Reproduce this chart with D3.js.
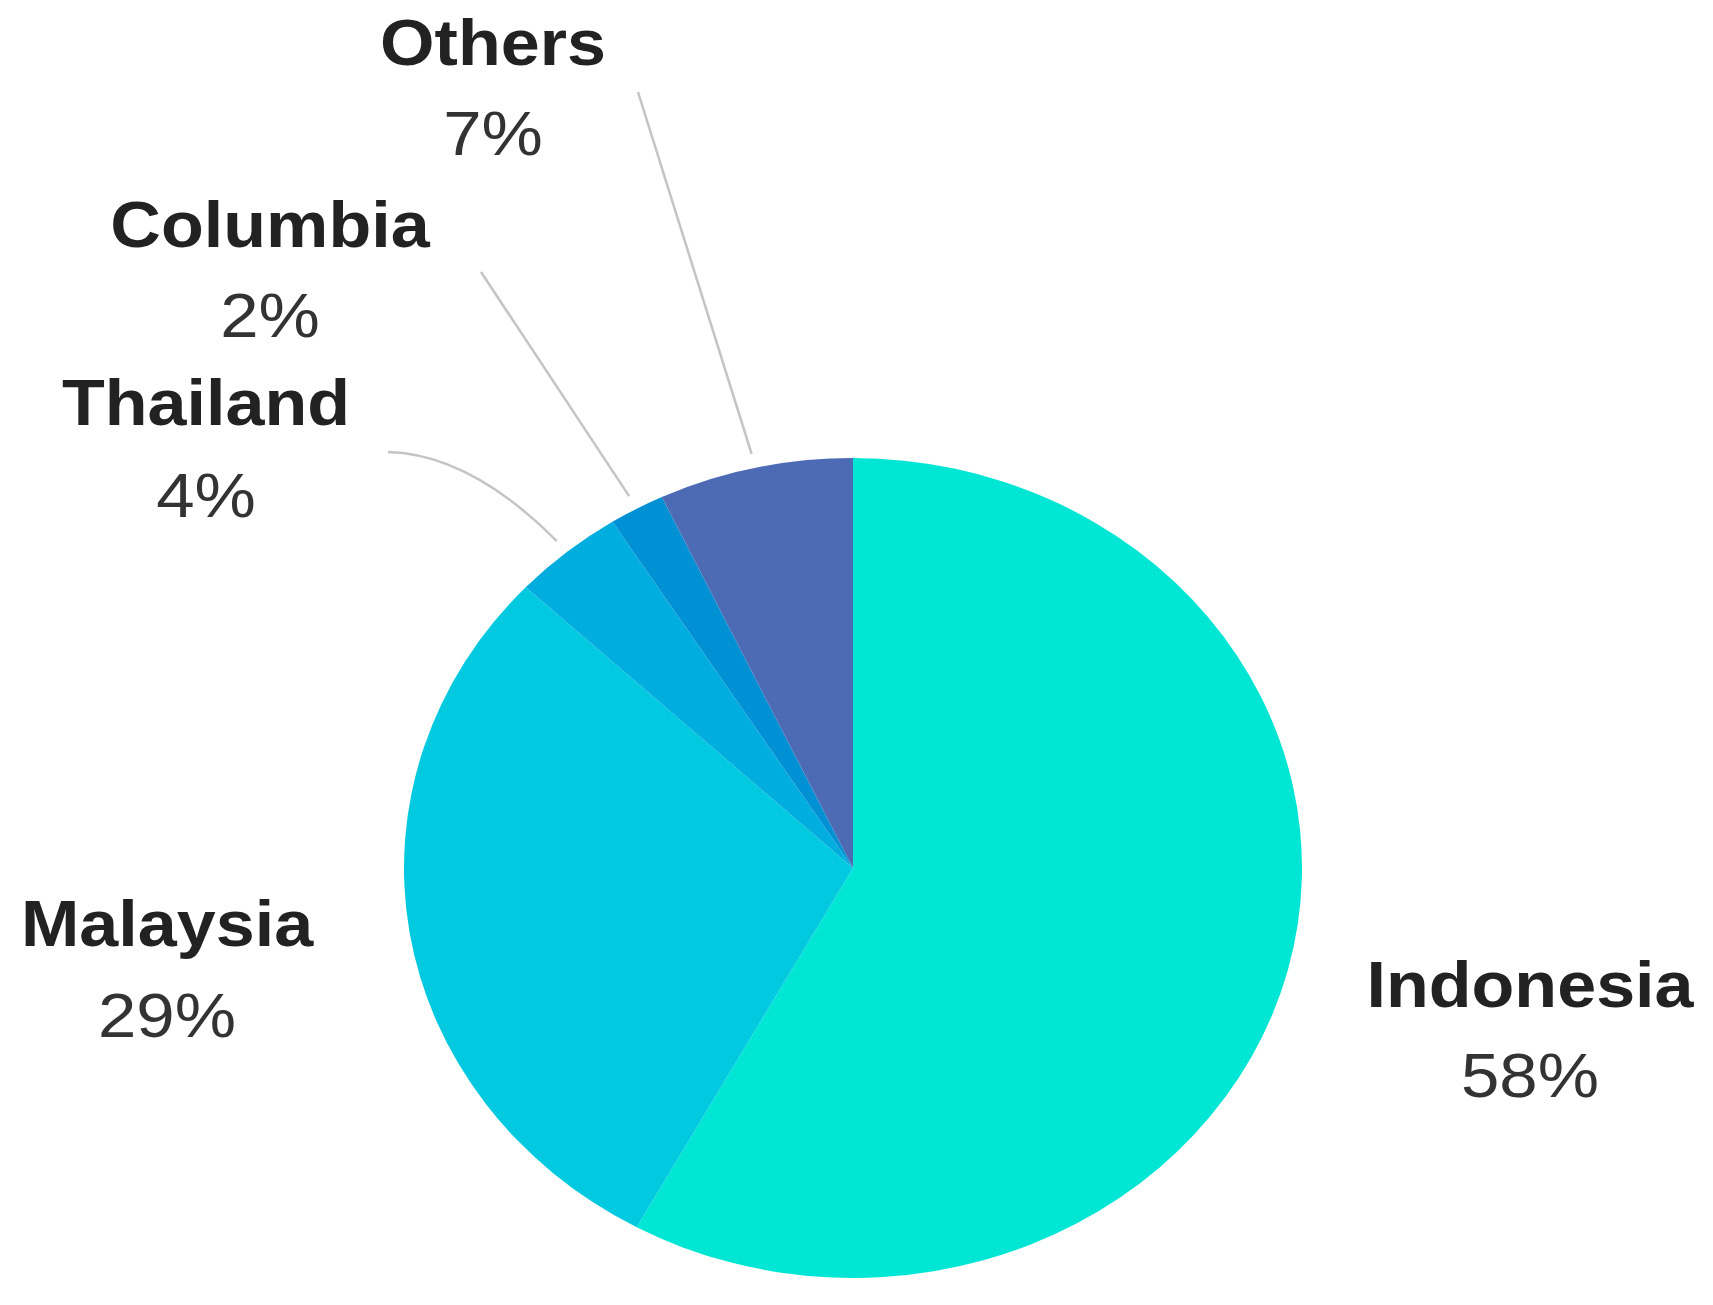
<!DOCTYPE html>
<html>
<head>
<meta charset="utf-8">
<script src="https://cdn.jsdelivr.net/npm/d3@7"></script>
<style>
    body { margin: 0; background: #fff; }
    svg { display: block; }
    text { font-family: "Liberation Sans", Arial, sans-serif; }
</style>
</head>
<body>
<svg id="chart" width="1713" height="1305"></svg>
<script>
// data
const countries = ['Indonesia', 'Malaysia', 'Thailand', 'Columbia', 'Others'];
const shares = [58, 29, 4, 2, 7];
const colors = ['#00e6d4', '#00c9e0', '#00addf', '#0090d4', '#4d6ab5'];

// layout (label anchors and where leader lines begin)
const labelPos = [
    {x: 1530, nameY: 1007, pctY: 1097},
    {x: 167, nameY: 946, pctY: 1037},
    {x: 206, nameY: 425, pctY: 517},
    {x: 270, nameY: 247, pctY: 337},
    {x: 493, nameY: 65, pctY: 155}
];
const leaderStart = [null, null, [388, 452], [481, 272], [638, 92]];

var cx = 853, cy = 868;
var r = 410;
var sx = 449 / r;   // the pie is drawn a little wider than tall

var svg = d3.select('#chart');

var pie = d3.pie().sort(null).value(function(d) { return d; });
var arcs = pie(shares);
var arc = d3.arc().innerRadius(0).outerRadius(r);

var pieG = svg.append('g')
    .attr('transform', 'translate(' + cx + ',' + cy + ') scale(' + sx + ',1)');

pieG.selectAll('path')
    .data(arcs)
    .enter()
    .append('path')
    .attr('d', arc)
    .attr('fill', function(d, i) { return colors[i]; });

// leader lines
function edgePoint(d, k) {
    var a = (d.startAngle + d.endAngle) / 2;
    return [cx + sx * r * k * Math.sin(a), cy - r * k * Math.cos(a)];
}

arcs.forEach(function(d, i) {
    var s = leaderStart[i];
    if (!s) return;
    var e = edgePoint(d, 1.035);
    var p = d3.path();
    p.moveTo(s[0], s[1]);
    if (i === 2) {
        p.quadraticCurveTo(470, 454, e[0], e[1]);
    } else {
        p.lineTo(e[0], e[1]);
    }
    svg.append('path')
        .attr('d', p.toString())
        .attr('fill', 'none')
        .attr('stroke', '#c4c4c4')
        .attr('stroke-width', 2.5);
});

// labels
var labels = svg.selectAll('g.label')
    .data(countries)
    .enter()
    .append('g')
    .attr('class', 'label');

labels.append('text')
    .attr('transform', function(d, i) {
        return 'translate(' + labelPos[i].x + ',' + labelPos[i].nameY + ') scale(' + sx + ',1)';
    })
    .attr('text-anchor', 'middle')
    .attr('font-size', 64)
    .attr('font-weight', 'bold')
    .attr('fill', '#222')
    .text(function(d) { return d; });

labels.append('text')
    .attr('transform', function(d, i) {
        return 'translate(' + labelPos[i].x + ',' + labelPos[i].pctY + ') scale(' + sx + ',1)';
    })
    .attr('text-anchor', 'middle')
    .attr('font-size', 63)
    .attr('fill', '#333')
    .text(function(d, i) { return shares[i] + '%'; });
</script>
</body>
</html>
